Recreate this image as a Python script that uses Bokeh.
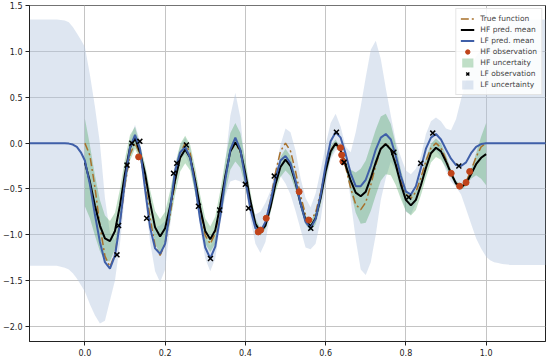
from bokeh.plotting import figure
from bokeh.models import Range1d, FixedTicker, Legend, LegendItem
from bokeh.embed import file_html
from bokeh.resources import INLINE

# ---------------- data ----------------
x_grid = [0.0, 0.0125, 0.025, 0.0375, 0.05, 0.0625, 0.075, 0.0875, 0.1, 0.1125,
          0.125, 0.1375, 0.15, 0.1625, 0.175, 0.1875, 0.2, 0.2125, 0.225, 0.2375,
          0.25, 0.2625, 0.275, 0.2875, 0.3, 0.3125, 0.325, 0.3375, 0.35, 0.3625,
          0.375, 0.3875, 0.4, 0.4125, 0.425, 0.4375, 0.45, 0.4625, 0.475, 0.4875,
          0.5, 0.5125, 0.525, 0.5375, 0.55, 0.5625, 0.575, 0.5875, 0.6, 0.6125,
          0.625, 0.6375, 0.65, 0.6625, 0.675, 0.6875, 0.7, 0.7125, 0.725, 0.7375,
          0.75, 0.7625, 0.775, 0.7875, 0.8, 0.8125, 0.825, 0.8375, 0.85, 0.8625,
          0.875, 0.8875, 0.9, 0.9125, 0.925, 0.9375, 0.95, 0.9625, 0.975, 0.9875, 1.0]

true_y = [0.0, -0.134, -0.480, -0.901, -1.234, -1.352, -1.211, -0.868, -0.454, -0.124,
          0.0, -0.122, -0.437, -0.819, -1.121, -1.227, -1.098, -0.787, -0.411, -0.112,
          0.0, -0.110, -0.394, -0.737, -1.008, -1.102, -0.985, -0.705, -0.368, -0.100,
          0.0, -0.098, -0.350, -0.656, -0.895, -0.977, -0.872, -0.623, -0.324, -0.089,
          0.0, -0.086, -0.307, -0.574, -0.782, -0.852, -0.759, -0.541, -0.281, -0.077,
          0.0, -0.074, -0.264, -0.492, -0.669, -0.727, -0.646, -0.459, -0.238, -0.065,
          0.0, -0.062, -0.221, -0.410, -0.556, -0.602, -0.533, -0.377, -0.195, -0.053,
          0.0, -0.050, -0.178, -0.328, -0.442, -0.477, -0.420, -0.296, -0.152, -0.041,
          0.0]

hf_mean = [-0.21, -0.42, -0.68, -0.90, -1.04, -1.07, -0.96, -0.68, -0.33, -0.05, 0.06,
           -0.10, -0.33, -0.65, -0.92, -1.02, -0.93, -0.69, -0.40, -0.16, -0.07,
           -0.16, -0.41, -0.71, -0.96, -1.05, -0.95, -0.68, -0.36, -0.09, 0.01,
           -0.08, -0.33, -0.63, -0.88, -0.97, -0.90, -0.70, -0.45, -0.26, -0.18,
           -0.25, -0.43, -0.66, -0.84, -0.91, -0.82, -0.60, -0.31, -0.09, 0.00,
           -0.08, -0.24, -0.41, -0.54, -0.58, -0.53, -0.38, -0.21, -0.06, -0.01,
           -0.07, -0.24, -0.45, -0.62, -0.68, -0.62, -0.46, -0.27, -0.11, -0.05,
           -0.09, -0.20, -0.33, -0.44, -0.48, -0.44, -0.34, -0.23, -0.16, -0.12]

hf_halfwidth = [0.48, 0.40, 0.33, 0.28, 0.25, 0.22, 0.20, 0.18, 0.16, 0.14,
                0.12, 0.08, 0.10, 0.14, 0.18, 0.19, 0.18, 0.17, 0.16, 0.15,
                0.15, 0.14, 0.14, 0.14, 0.14, 0.14, 0.15, 0.16, 0.18, 0.20,
                0.21, 0.19, 0.15, 0.10, 0.06, 0.04, 0.04, 0.06, 0.09, 0.11,
                0.12, 0.11, 0.08, 0.05, 0.05, 0.05, 0.07, 0.08, 0.08, 0.06,
                0.04, 0.03, 0.05, 0.12, 0.22, 0.30, 0.34, 0.36, 0.36, 0.35,
                0.33, 0.28, 0.22, 0.16, 0.12, 0.11, 0.11, 0.11, 0.11, 0.10,
                0.10, 0.09, 0.07, 0.04, 0.03, 0.03, 0.03, 0.05, 0.12, 0.23,
                0.34]

lf_left_x = [-0.14, -0.10, -0.07, -0.05, -0.04, -0.03, -0.02, -0.01]
lf_right_x = [1.01, 1.02, 1.03, 1.04, 1.06, 1.10, 1.15]

lf_mean_left = [0.0, 0.0, 0.0, 0.0, -0.005, -0.015, -0.04, -0.10]
lf_mean_mid = [-0.19, -0.45, -0.78, -1.08, -1.30, -1.37, -1.23, -0.87, -0.41, -0.05, 0.09,
               -0.06, -0.50, -0.92, -1.15, -1.21, -1.10, -0.72, -0.30, -0.10, -0.04,
               -0.16, -0.46, -0.84, -1.14, -1.26, -1.13, -0.80, -0.40, -0.07, 0.06,
               -0.07, -0.40, -0.72, -0.93, -0.97, -0.86, -0.64, -0.38, -0.19, -0.14,
               -0.22, -0.41, -0.66, -0.86, -0.93, -0.83, -0.57, -0.24, 0.02, 0.12,
               0.06, -0.12, -0.33, -0.47, -0.47, -0.40, -0.25, -0.07, 0.06, 0.10,
               0.04, -0.14, -0.36, -0.53, -0.56, -0.47, -0.27, -0.06, 0.06, 0.10,
               0.04, -0.07, -0.17, -0.24, -0.25, -0.21, -0.11, -0.04, -0.01, 0.0]
lf_mean_right = [0.0, 0.0, 0.0, 0.0, 0.0, 0.0, 0.0]

lf_upper_left = [1.35, 1.35, 1.35, 1.34, 1.32, 1.27, 1.20, 1.13]
lf_upper_mid = [1.05, 0.75, 0.40, 0.00, -0.60, -0.98, -1.06, -0.76, -0.30, 0.04, 0.20,
                0.02, -0.42, -0.80, -0.92, -0.90, -0.85, -0.58, -0.22, -0.03, 0.06,
                -0.06, -0.37, -0.74, -1.02, -1.12, -1.02, -0.72, -0.20, 0.30, 0.55,
                0.28, -0.30, -0.62, -0.78, -0.75, -0.65, -0.52, -0.30, -0.02, 0.16,
                0.12, -0.08, -0.38, -0.60, -0.70, -0.55, -0.30, -0.02, 0.22, 0.32,
                0.18, -0.04, -0.10, 0.12, 0.40, 0.72, 1.02, 1.12, 0.92, 0.60,
                0.30, 0.02, -0.15, -0.30, -0.34, -0.28, -0.14, 0.10, 0.24, 0.28,
                0.24, 0.16, 0.14, 0.26, 0.48, 0.68, 0.84, 0.95, 1.02, 1.08]
lf_upper_right = [1.16, 1.23, 1.28, 1.31, 1.34, 1.35, 1.35]

lf_lower_left = [-1.34, -1.34, -1.34, -1.36, -1.38, -1.42, -1.48, -1.55]
lf_lower_mid = [-1.62, -1.76, -1.88, -1.97, -1.94, -1.72, -1.50, -1.10, -0.55, -0.14, -0.02,
                -0.13, -0.60, -1.08, -1.40, -1.52, -1.38, -0.90, -0.40, -0.17, -0.12,
                -0.26, -0.55, -0.93, -1.26, -1.40, -1.26, -0.88, -0.58, -0.42, -0.40,
                -0.42, -0.48, -0.82, -1.10, -1.20, -1.08, -0.76, -0.46, -0.36, -0.44,
                -0.56, -0.74, -0.94, -1.14, -1.16, -1.10, -0.84, -0.46, -0.18, -0.08,
                -0.06, -0.20, -0.62, -1.05, -1.38, -1.44, -1.30, -1.00, -0.62, -0.38,
                -0.20, -0.30, -0.56, -0.75, -0.78, -0.66, -0.40, -0.22, -0.12, -0.08,
                -0.16, -0.30, -0.42, -0.48, -0.56, -0.72, -0.88, -1.04, -1.15, -1.24]
lf_lower_right = [-1.28, -1.30, -1.31, -1.32, -1.33, -1.33, -1.33]

hf_obs_x = [0.134, 0.432, 0.438, 0.452, 0.534, 0.558, 0.637, 0.640, 0.643, 0.913, 0.934, 0.950, 0.959]
hf_obs_y = [-0.15, -0.97, -0.95, -0.82, -0.53, -0.84, -0.05, -0.13, -0.20, -0.33, -0.47, -0.43, -0.31]

lf_obs_x = [0.080, 0.084, 0.105, 0.117, 0.137, 0.154, 0.221, 0.229, 0.253, 0.283, 0.313, 0.336,
            0.400, 0.408, 0.472, 0.563, 0.627, 0.646, 0.770, 0.807, 0.837, 0.867, 0.932]
lf_obs_y = [-1.22, -0.90, -0.24, 0.00, 0.02, -0.82, -0.33, -0.22, -0.02, -0.69, -1.26, -0.73,
            -0.45, -0.71, -0.36, -0.93, 0.12, -0.21, -0.10, -0.59, -0.22, 0.11, -0.25]

x_ticks = [0.0, 0.2, 0.4, 0.6, 0.8, 1.0]
y_ticks = [-2.0, -1.5, -1.0, -0.5, 0.0, 0.5, 1.0, 1.5]
legend_labels = ["True function", "HF pred. mean", "LF pred. mean", "HF observation",
                 "HF uncertaity", "LF observation", "LF uncertainty"]

# ---------------- derived ----------------
lf_x = lf_left_x + x_grid + lf_right_x
lf_mean = lf_mean_left + lf_mean_mid + lf_mean_right
lf_upper = lf_upper_left + lf_upper_mid + lf_upper_right
lf_lower = lf_lower_left + lf_lower_mid + lf_lower_right
hf_upper = [m + w for m, w in zip(hf_mean, hf_halfwidth)]
hf_lower = [m - w for m, w in zip(hf_mean, hf_halfwidth)]

# ---------------- figure ----------------
p = figure(width=550, height=358, output_backend="svg", toolbar_location=None,
           x_range=Range1d(-0.138, 1.148), y_range=Range1d(-2.167, 1.504),
           min_border_left=28, min_border_right=5, min_border_top=5, min_border_bottom=17)
p.styles = {"position": "absolute", "left": "0px", "top": "0px"}
p.background_fill_color = "white"
p.border_fill_color = "white"
p.outline_line_color = "#222222"
p.outline_line_width = 1

font = "DejaVu Sans"
p.xaxis.ticker = FixedTicker(ticks=x_ticks)
p.yaxis.ticker = FixedTicker(ticks=y_ticks)
p.xaxis.major_label_overrides = {t: f"{t:.1f}" for t in x_ticks}
p.yaxis.major_label_overrides = {t: f"{t:.1f}".replace("-", "\u2212") for t in y_ticks}
for ax in (p.xaxis, p.yaxis):
    ax.major_label_text_font = font
    ax.major_label_text_font_size = "8px"
    ax.major_label_text_color = "#222222"
    ax.major_tick_in = 0
    ax.major_tick_out = 4
    ax.minor_tick_line_color = None
    ax.major_tick_line_color = "#222222"
    ax.axis_line_color = "#222222"
p.xaxis.major_label_standoff = 3
p.yaxis.major_label_standoff = 3
p.grid.grid_line_color = "#c4c4c4"
p.grid.grid_line_width = 1

lf_band = p.varea(x=lf_x, y1=lf_lower, y2=lf_upper, fill_color="#b0c4de", fill_alpha=0.42)
hf_band = p.varea(x=x_grid, y1=hf_lower, y2=hf_upper, fill_color="#3c9a52", fill_alpha=0.32)
true_r = p.line(x_grid, true_y, line_color="#a8702a", line_width=1.5, line_dash="8 3 2 3")
hf_r = p.line(x_grid, hf_mean, line_color="black", line_width=2)
lf_r = p.line(lf_x, lf_mean, line_color="#3f5fa8", line_width=2)
hf_obs = p.scatter(hf_obs_x, hf_obs_y, marker="circle", size=6, fill_color="#c0441a",
                   line_color="#c0441a")
lf_obs = p.scatter(lf_obs_x, lf_obs_y, marker="x", size=7, line_color="black", line_width=1.5)

renderers = [true_r, hf_r, lf_r, hf_obs, hf_band, lf_obs, lf_band]
legend = Legend(items=[LegendItem(label=l, renderers=[r]) for l, r in zip(legend_labels, renderers)],
                location="top_right")
legend.label_text_font = font
legend.label_text_font_size = "7.5px"
legend.glyph_width = 14
legend.glyph_height = 11
legend.label_height = 11
legend.spacing = 0
legend.padding = 4
legend.margin = 3
legend.label_standoff = 6
legend.border_line_color = "#cccccc"
legend.background_fill_alpha = 0.85
p.add_layout(legend)

open("out.html", "w").write(file_html(p, INLINE))
